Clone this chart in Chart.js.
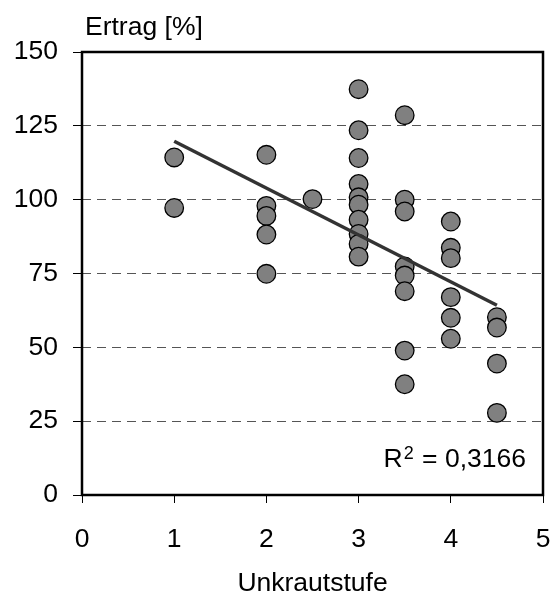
<!DOCTYPE html>
<html>
<head>
<meta charset="utf-8">
<script src="https://cdn.jsdelivr.net/npm/chart.js@4/dist/chart.umd.min.js"></script>
<style>
  html, body { margin: 0; padding: 0; background: #fff; }
  #wrap { width: 550px; height: 593px; }
</style>
</head>
<body>
<div id="wrap"><canvas id="c" width="550" height="593"></canvas></div>
<script>
// ---- data ----
const stufe  = [1, 1,
                2, 2, 2, 2, 2,
                2.5,
                3, 3, 3, 3, 3, 3, 3, 3, 3, 3,
                3.5, 3.5, 3.5, 3.5, 3.5, 3.5, 3.5, 3.5,
                4, 4, 4, 4, 4, 4,
                4.5, 4.5, 4.5, 4.5];
const ertrag = [114.3, 97.2,
                115.2, 97.9, 94.5, 88.2, 74.9,
                100.2,
                137.4, 123.5, 114.1, 105.3, 100.8, 98.3, 93.2, 88.4, 85.0, 80.7,
                128.6, 100.0, 96.0, 77.4, 74.3, 69.0, 48.9, 37.5,
                92.6, 83.7, 80.2, 67.0, 60.0, 52.9,
                60.2, 56.7, 44.5, 27.8];
const xTicks = [0, 1, 2, 3, 4, 5];
const yTicks = [0, 25, 50, 75, 100, 125, 150];
const xTitle = 'Unkrautstufe';
const yTitle = 'Ertrag [%]';
const r2Label = '0,3166';

// ---- linear regression from the data ----
const n = stufe.length;
const mx = stufe.reduce((a, b) => a + b, 0) / n;
const my = ertrag.reduce((a, b) => a + b, 0) / n;
let sxy = 0, sxx = 0;
for (let i = 0; i < n; i++) { sxy += (stufe[i] - mx) * (ertrag[i] - my); sxx += (stufe[i] - mx) ** 2; }
const slope = sxy / sxx, icpt = my - slope * mx;
const xMin = Math.min(...stufe), xMax = Math.max(...stufe);
const trend = [xMin, xMax].map(x => ({ x, y: icpt + slope * x }));

const points = stufe.map((x, i) => ({ x, y: ertrag[i] }));
const FONT = "'Liberation Sans', Arial, sans-serif";

const framePlugin = {
  id: 'frame',
  afterDatasetsDraw(chart) {
    const { ctx, chartArea: a } = chart;
    ctx.save();
    ctx.strokeStyle = '#000';
    ctx.lineWidth = 2.5;
    ctx.strokeRect(a.left, a.top, a.right - a.left, a.bottom - a.top);
    ctx.restore();
  },
  afterDraw(chart) {
    const { ctx, chartArea: a } = chart;
    ctx.save();
    ctx.fillStyle = '#000';
    ctx.textBaseline = 'alphabetic';
    ctx.textAlign = 'left';
    ctx.font = '26.5px ' + FONT;
    // y-axis title at top-left
    ctx.fillText(yTitle, a.left + 3, 35);
    // R^2 label
    const rest = ' = ' + r2Label;
    const wRest = ctx.measureText(rest).width;
    const wR = ctx.measureText('R').width;
    ctx.font = '18px ' + FONT;
    const wSup = ctx.measureText('2').width;
    const xRest = a.right - 17 - wRest;
    const xSup = xRest - wSup - 1;
    const xR = xSup - wR - 1;
    ctx.fillText('2', xSup, 459);
    ctx.font = '26.5px ' + FONT;
    ctx.fillText('R', xR, 467);
    ctx.fillText(rest, xRest, 467);
    ctx.restore();
  }
};

new Chart(document.getElementById('c'), {
  data: {
    datasets: [
      { type: 'line', data: trend, borderColor: '#333333', borderWidth: 3.5, pointRadius: 0, fill: false, order: 0 },
      { type: 'scatter', data: points, backgroundColor: '#808080', borderColor: '#000', borderWidth: 1.3, pointRadius: 9.3, order: 1 }
    ]
  },
  options: {
    responsive: false,
    animation: false,
    devicePixelRatio: 1,
    layout: { autoPadding: false, padding: { top: 52, right: 0, bottom: 0, left: 0 } },
    plugins: { legend: { display: false }, tooltip: { enabled: false }, title: { display: false } },
    scales: {
      x: {
        type: 'linear',
        min: 0, max: 5,
        afterBuildTicks: s => { s.ticks = xTicks.map(v => ({ value: v })); },
        afterFit: s => { s.height = 98; s.paddingRight = 7; s.paddingLeft = 7; },
        grid: { drawOnChartArea: false, drawTicks: true, tickLength: 8, tickColor: '#000', tickWidth: 1 },
        border: { display: false },
        ticks: { color: '#000', font: { family: FONT, size: 26.5 }, padding: 21, maxRotation: 0 },
        title: { display: true, text: xTitle, color: '#000', font: { family: FONT, size: 26.5, lineHeight: 1 }, padding: { top: 0, bottom: -4 } }
      },
      y: {
        type: 'linear',
        min: 0, max: 150,
        afterBuildTicks: s => { s.ticks = yTicks.map(v => ({ value: v })); },
        afterFit: s => { s.width = 82; },
        grid: { drawOnChartArea: true, drawTicks: true, tickLength: 9, color: '#555', lineWidth: 1, tickColor: '#000', tickWidth: 1, tickBorderDash: [1, 0] },
        border: { display: false, dash: [9, 6] },
        ticks: { color: '#000', font: { family: FONT, size: 26.5 }, padding: 15 }
      }
    }
  },
  plugins: [framePlugin]
});
</script>
</body>
</html>
